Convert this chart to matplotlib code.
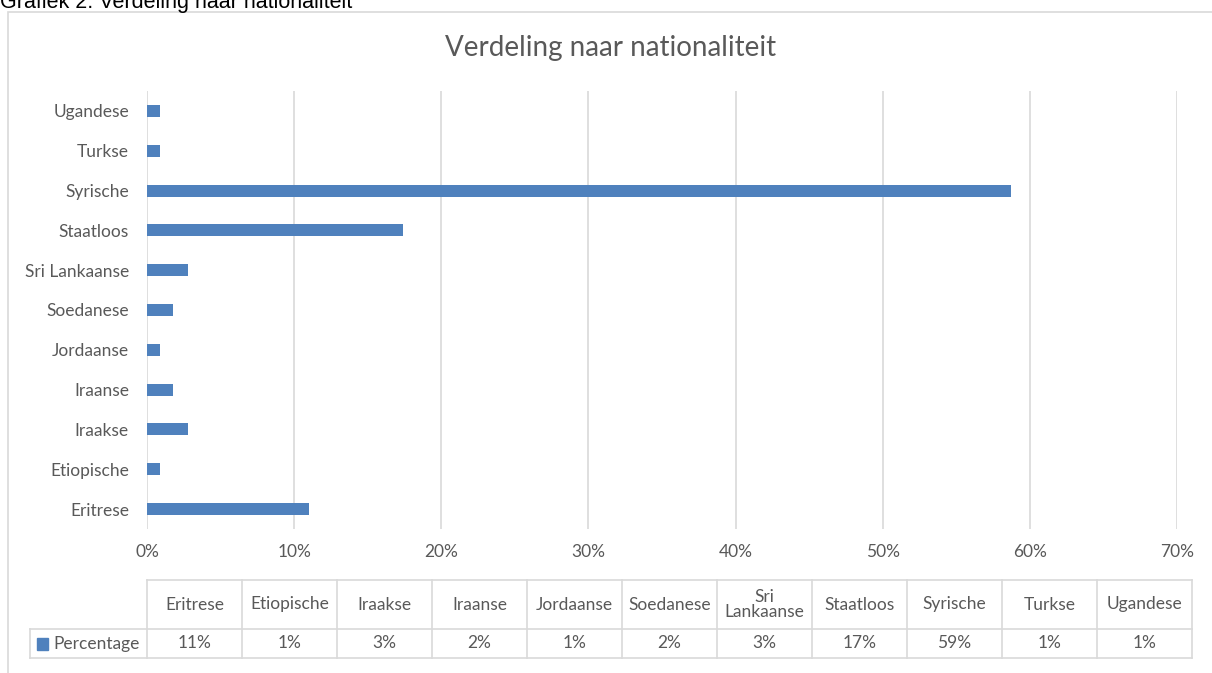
import matplotlib.pyplot as plt
from matplotlib.patches import Rectangle
from matplotlib.ticker import FuncFormatter

# Data (percentages)
categories = ['Eritrese', 'Etiopische', 'Iraakse', 'Iraanse', 'Jordaanse', 'Soedanese',
              'Sri Lankaanse', 'Staatloos', 'Syrische', 'Turkse', 'Ugandese']
table_headers = ['Eritrese', 'Etiopische', 'Iraakse', 'Iraanse', 'Jordaanse', 'Soedanese',
                 'Sri\nLankaanse', 'Staatloos', 'Syrische', 'Turkse', 'Ugandese']
percentages = [11.0, 0.9, 2.8, 1.8, 0.9, 1.8, 2.8, 17.4, 58.7, 0.9, 0.9]
table_values = ['11%', '1%', '3%', '2%', '1%', '2%', '3%', '17%', '59%', '1%', '1%']
series_name = 'Percentage'
x_ticks = [0, 10, 20, 30, 40, 50, 60, 70]

BAR = '#4f81bd'
TXT = '#595959'
GRID = '#d9d9d9'
FONT = ['Lato', 'DejaVu Sans']
FS = 12.5

W, H = 1212, 673
fig = plt.figure(figsize=(W / 100, H / 100), dpi=100)


def fx(px):
    return px / W


def fy(py):
    return 1 - py / H


# chart frame and caption
fig.patches.append(Rectangle((fx(8), fy(700)), fx(1220) - fx(8), fy(12) - fy(700),
                             transform=fig.transFigure, fill=False,
                             edgecolor=GRID, linewidth=1.2))
fig.text(fx(0), fy(8), 'Grafiek 2. Verdeling naar nationaliteit',
         family='Liberation Sans', fontsize=15.5, color='black', va='baseline', ha='left')

# main bar chart
ax = fig.add_axes([fx(147), fy(529), fx(1177) - fx(147), fy(91) - fy(529)])
ax.barh(range(len(categories)), percentages, height=0.3, color=BAR, zorder=3)
ax.set_xlim(0, 70)
ax.set_ylim(-0.5, len(categories) - 0.5)
ax.set_xticks(x_ticks)
ax.xaxis.set_major_formatter(FuncFormatter(lambda v, _: f'{v:.0f}%'))
ax.set_yticks(range(len(categories)))
ax.set_yticklabels(categories)
ax.grid(axis='x', color=GRID, linewidth=1.2, zorder=0)
for s in ax.spines.values():
    s.set_visible(False)
ax.tick_params(length=0, labelcolor=TXT, labelsize=FS)
ax.tick_params(axis='x', pad=11)
ax.tick_params(axis='y', pad=13)
for lab in ax.get_xticklabels() + ax.get_yticklabels():
    lab.set_family(FONT)

fig.text(fx(611), fy(48), 'Verdeling naar nationaliteit', family=FONT,
         fontsize=20, color=TXT, ha='center', va='center')

# data table below the chart
n = len(categories)
label_w = (147 - 30) / 95.0
head_h = 49 / 29.0
tax = fig.add_axes([fx(30), fy(658), fx(1192) - fx(30), fy(580) - fy(658)])
tax.set_xlim(-label_w, n)
tax.set_ylim(0, 1 + head_h)
tax.axis('off')
lw = 1.2
tax.plot([0, n], [1 + head_h, 1 + head_h], color=GRID, lw=lw, clip_on=False)
tax.plot([-label_w, n], [1, 1], color=GRID, lw=lw, clip_on=False)
tax.plot([-label_w, n], [0, 0], color=GRID, lw=lw, clip_on=False)
tax.plot([-label_w, -label_w], [0, 1], color=GRID, lw=lw, clip_on=False)
for i in range(n + 1):
    tax.plot([i, i], [0, 1 + head_h], color=GRID, lw=lw, clip_on=False)
for i in range(n):
    tax.text(i + 0.5, 1 + head_h / 2, table_headers[i], ha='center', va='center',
             family=FONT, fontsize=FS, color=TXT, linespacing=0.95)
    tax.text(i + 0.5, 0.5, table_values[i], ha='center', va='center',
             family=FONT, fontsize=FS, color=TXT)
tax.add_patch(Rectangle((-label_w + 7 / 95, 0.28), 11 / 95, 0.42, color=BAR, clip_on=False))
tax.text(-label_w + 23 / 95, 0.5, series_name, ha='left', va='center',
         family=FONT, fontsize=FS, color=TXT)

fig.savefig('out.png', dpi=100)
